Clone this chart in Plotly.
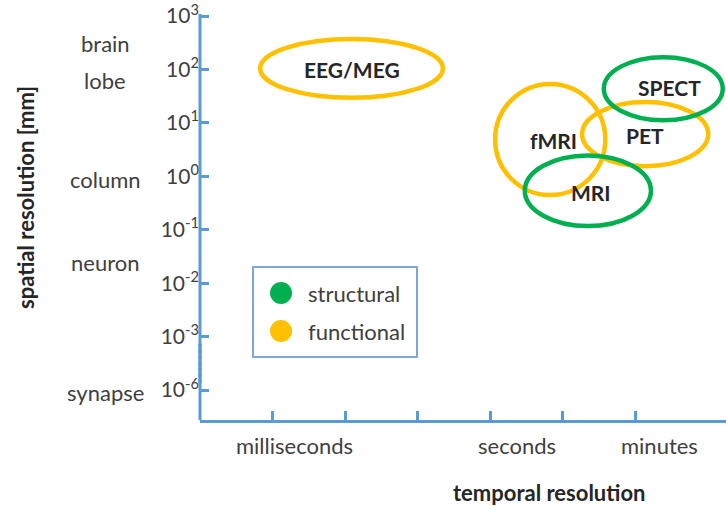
import plotly.graph_objects as go

# ---------------- data ----------------
# y axis: spatial resolution (log10 mm), tick positions and labels
y_tick_pos = [3, 2, 1, 0, -1, -2, -3, -4]
y_tick_txt = ["10<sup>3</sup>", "10<sup>2</sup>", "10<sup>1</sup>", "10<sup>0</sup>",
              "10<sup>-1</sup>", "10<sup>-2</sup>", "10<sup>-3</sup>", "10<sup>-6</sup>"]
# anatomical scale names and their y positions
scale_names = ["brain", "lobe", "column", "neuron", "synapse"]
scale_y = [2.49, 1.80, -0.05, -1.62, -4.04]
# x axis: temporal resolution (ordinal units)
x_ticks = [1, 2, 3, 4, 5, 6]
time_labels = ["milliseconds", "seconds", "minutes"]
time_label_x = [1.30, 4.37, 6.34]

# imaging methods: ellipses (centre x, centre y, half width x, half height y)
methods = ["EEG/MEG", "fMRI", "PET", "SPECT", "MRI"]
kind = ["functional", "functional", "functional", "structural", "structural"]
cx = [2.09, 4.83, 6.14, 6.39, 5.35]
cy = [2.02, 0.69, 0.79, 1.64, -0.27]
rx = [1.26, 0.76, 0.87, 0.82, 0.87]
ry = [0.55, 1.04, 0.60, 0.59, 0.66]
label_x = [2.09, 4.87, 6.14, 6.48, 5.39]
label_y = [1.99, 0.68, 0.76, 1.67, -0.31]

legend_names = ["structural", "functional"]

colors = {"structural": "#00B050", "functional": "#FFC000"}
AX = "#5B9BD5"
FONT = "Lato"
TXT = "#404040"
FS = 22

fig = go.Figure()
# invisible trace so axes are created
fig.add_trace(go.Scatter(x=[None], y=[None], showlegend=False))

shapes = []
# ellipses: functional first, structural on top
order = [i for i in range(len(methods)) if kind[i] == "functional"] + \
        [i for i in range(len(methods)) if kind[i] == "structural"]
for i in order:
    shapes.append(dict(type="circle", xref="x", yref="y",
                       x0=cx[i] - rx[i], x1=cx[i] + rx[i],
                       y0=cy[i] - ry[i], y1=cy[i] + ry[i],
                       line=dict(color=colors[kind[i]], width=4.5),
                       fillcolor="rgba(0,0,0,0)"))

YMIN, YMAX = -4.5588, 3.0374
# y axis line with a dotted break between 10^-3 and 10^-6
shapes.append(dict(type="line", xref="paper", yref="y", x0=0, x1=0, y0=YMIN - 0.03, y1=-3.13,
                   line=dict(color=AX, width=3)))
shapes.append(dict(type="line", xref="paper", yref="y", x0=0, x1=0, y0=-3.13, y1=-3.87,
                   line=dict(color=AX, width=3, dash="dot")))
shapes.append(dict(type="line", xref="paper", yref="y", x0=0, x1=0, y0=-3.87, y1=YMAX,
                   line=dict(color=AX, width=3)))

# legend box
shapes.append(dict(type="rect", xref="paper", yref="paper", x0=0.1008, x1=0.4125,
                   y0=0.1552, y1=0.3768, line=dict(color="#7FA7DA", width=2),
                   fillcolor="white"))
leg_y = [0.3128, 0.2192]
for name, ly in zip(legend_names, leg_y):
    shapes.append(dict(type="circle", xref="paper", yref="paper",
                       xsizemode="pixel", ysizemode="pixel",
                       xanchor=0.154, yanchor=ly, x0=-11, x1=11, y0=-11, y1=11,
                       fillcolor=colors[name], line=dict(width=0)))

annotations = []
for name, ly in zip(legend_names, leg_y):
    annotations.append(dict(text=name, xref="paper", yref="paper", x=0.2015, y=ly,
                            xanchor="left", yanchor="middle", showarrow=False,
                            font=dict(family=FONT, size=FS, color=TXT)))
for i, m in enumerate(methods):
    annotations.append(dict(text="<b>%s</b>" % m, xref="x", yref="y", x=label_x[i], y=label_y[i],
                            showarrow=False, xanchor="center", yanchor="middle",
                            font=dict(family=FONT, size=21, color="#262626")))
for n, yv in zip(scale_names, scale_y):
    annotations.append(dict(text=n, xref="paper", yref="y", x=-0.1806, y=yv,
                            xanchor="center", yanchor="middle", showarrow=False,
                            font=dict(family=FONT, size=FS, color=TXT)))
for t, xv in zip(time_labels, time_label_x):
    annotations.append(dict(text=t, xref="x", yref="paper", x=xv, y=-0.0616,
                            xanchor="center", yanchor="middle", showarrow=False,
                            font=dict(family=FONT, size=FS, color=TXT)))
annotations.append(dict(text="<b>temporal resolution</b>", xref="paper", yref="paper",
                        x=(549 - 200) / 526, y=(420 - 492) / 406, xanchor="center",
                        yanchor="middle", showarrow=False,
                        font=dict(family=FONT, size=22, color="#262626")))
annotations.append(dict(text="<b>spatial resolution [mm]</b>", xref="paper", yref="paper",
                        x=(25 - 200) / 526, y=(420 - 198) / 406, xanchor="center",
                        yanchor="middle", textangle=-90, showarrow=False,
                        font=dict(family=FONT, size=22, color="#262626")))

fig.update_layout(
    width=726, height=506,
    margin=dict(l=200, r=0, t=14, b=86),
    paper_bgcolor="white", plot_bgcolor="white",
    showlegend=False,
    shapes=shapes, annotations=annotations,
    xaxis=dict(range=[0, 526 / 72.5], showgrid=False, zeroline=False,
               showline=True, linecolor=AX, linewidth=3, automargin=False,
               ticks="inside", tickvals=x_ticks, ticklen=9, tickwidth=2.5, tickcolor=AX,
               showticklabels=False, fixedrange=True),
    yaxis=dict(range=[YMIN, YMAX], showgrid=False, zeroline=False, showline=False,
               automargin=False,
               ticks="inside", tickvals=y_tick_pos, ticktext=y_tick_txt,
               ticklen=9, tickwidth=2.5, tickcolor=AX, ticklabeloverflow="allow",
               tickfont=dict(family=FONT, size=21, color=TXT), fixedrange=True),
)

fig.write_html("out.html")
